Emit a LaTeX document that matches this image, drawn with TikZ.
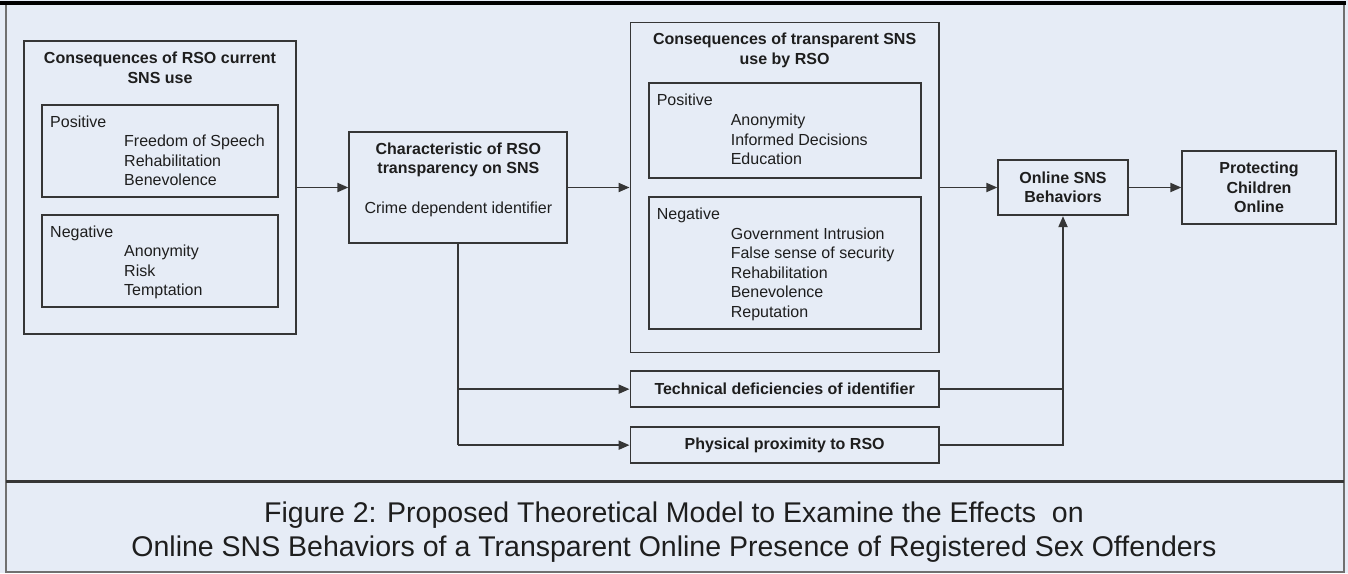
\documentclass[tikz,border=0pt]{standalone}
\usepackage{fontspec}
\setmainfont{Liberation Sans}
\usetikzlibrary{arrows.meta}
\definecolor{bgc}{HTML}{E6ECF6}
\definecolor{lnc}{HTML}{363636}
\definecolor{txc}{HTML}{1E1E1E}
\definecolor{frc}{HTML}{707070}
\begin{document}
\begin{tikzpicture}[x=1pt,y=-1pt,
  boxs/.style={draw=lnc, line width=1.9pt, rectangle, inner sep=0pt},
  conn/.style={draw=lnc, line width=1.9pt},
  arr/.style={conn, -{Triangle[length=11pt,width=9pt]}},
  txt/.style={text=txc, font=\fontsize{16}{19.5}\selectfont, inner sep=0pt},
  btxt/.style={text=txc, font=\fontsize{16}{19.5}\selectfont\bfseries, inner sep=0pt},
  captxt/.style={text=txc, font=\fontsize{28.5}{33}\selectfont, inner sep=0pt},
]
% background and frame
\fill[bgc] (0,0) rectangle (1348,573);
\useasboundingbox (0,0) rectangle (1348,573);
\draw[frc, line width=2pt] (6,3) -- (6,571.5) -- (1344,571.5) -- (1344,3);
\draw[black, line width=3.5pt] (0,3) -- (1346,3);
\draw[lnc, line width=2.2pt] (6,481.5) -- (1344,481.5);

% boxes
\node[boxs, minimum width=272pt, minimum height=293.3pt] (box1) at (160,187.5) {};
\node[boxs, minimum width=236pt, minimum height=91.7pt] (pos1) at (160,150.85) {};
\node[boxs, minimum width=236pt, minimum height=91.7pt] (neg1) at (160,260.85) {};
\node[boxs, minimum width=218pt, minimum height=110.7pt] (char) at (458.35,187.5) {};
\node[boxs, minimum width=308.2pt, minimum height=330pt] (box3) at (784.6,187.5) {};
\node[boxs, minimum width=272pt, minimum height=94.4pt] (pos3) at (784.6,130.5) {};
\node[boxs, minimum width=272pt, minimum height=132.3pt] (neg3) at (784.6,263.15) {};
\node[boxs, minimum width=308.2pt, minimum height=36.3pt, btxt] (tech) at (784.6,389.15) {Technical deficiencies of identifier};
\node[boxs, minimum width=308.2pt, minimum height=36.3pt, btxt] (phys) at (784.6,445.15) {Physical proximity to RSO};
\node[boxs, minimum width=129.4pt, minimum height=55.3pt, btxt, align=center] (online) at (1063,187.5) {Online SNS\\Behaviors};
\node[boxs, minimum width=153.4pt, minimum height=73.6pt, btxt, align=center] (prot) at (1259,187.5) {Protecting\\Children\\Online};

% box 1 texts
\node[btxt, anchor=base] (t1a) at (160,63) {Consequences of RSO current};
\node[btxt, anchor=base] (t1b) at (160,83) {SNS use};
\node[txt, anchor=base west] (p1l) at (50,127.5) {Positive};
\node[txt, anchor=base west] (p1a) at (124,146.5) {Freedom of Speech};
\node[txt, anchor=base west] (p1b) at (124,166) {Rehabilitation};
\node[txt, anchor=base west] (p1c) at (124,185.5) {Benevolence};
\node[txt, anchor=base west] (n1l) at (50,237.5) {Negative};
\node[txt, anchor=base west] (n1a) at (124,256.5) {Anonymity};
\node[txt, anchor=base west] (n1b) at (124,276) {Risk};
\node[txt, anchor=base west] (n1c) at (124,295.5) {Temptation};

% characteristic box texts
\node[btxt, anchor=base] (c1) at (458.35,154.5) {Characteristic of RSO};
\node[btxt, anchor=base] (c2) at (458.35,173.5) {transparency on SNS};
\node[txt, anchor=base] (c3) at (458.35,213.5) {Crime dependent identifier};

% box 3 texts
\node[btxt, anchor=base] (t3a) at (784.6,44.5) {Consequences of transparent SNS};
\node[btxt, anchor=base] (t3b) at (784.6,64.5) {use by RSO};
\node[txt, anchor=base west] (p3l) at (656.6,105.5) {Positive};
\node[txt, anchor=base west] (p3a) at (730.6,125.5) {Anonymity};
\node[txt, anchor=base west] (p3b) at (730.6,145) {Informed Decisions};
\node[txt, anchor=base west] (p3c) at (730.6,164.5) {Education};
\node[txt, anchor=base west] (n3l) at (656.6,219) {Negative};
\node[txt, anchor=base west] (n3a) at (730.6,239) {Government Intrusion};
\node[txt, anchor=base west] (n3b) at (730.6,258.5) {False sense of security};
\node[txt, anchor=base west] (n3c) at (730.6,278) {Rehabilitation};
\node[txt, anchor=base west] (n3d) at (730.6,297.5) {Benevolence};
\node[txt, anchor=base west] (n3e) at (730.6,317) {Reputation};

% caption
\node[captxt, anchor=base] (cap1) at (674,522.5) {Figure 2: Proposed Theoretical Model to Examine the Effects\ \ on};
\node[captxt, anchor=base] (cap2) at (674,556) {Online SNS Behaviors of a Transparent Online Presence of Registered Sex Offenders};

% connectors
\draw[arr] (box1.east) -- (char.west);
\draw[arr] (char.east) -- (box3.west);
\draw[arr] (box3.east) -- (online.west);
\draw[arr] (online.east) -- (prot.west);
\coordinate (jl) at (char.south |- phys.west);
\draw[conn] (char.south) -- (jl);
\draw[arr] (char.south |- tech.west) -- (tech.west);
\draw[arr] (jl) -- (phys.west);
\draw[arr] (phys.east) -| (online.south);
\draw[conn] (tech.east) -- (tech.east -| online.south);
\end{tikzpicture}
\end{document}
